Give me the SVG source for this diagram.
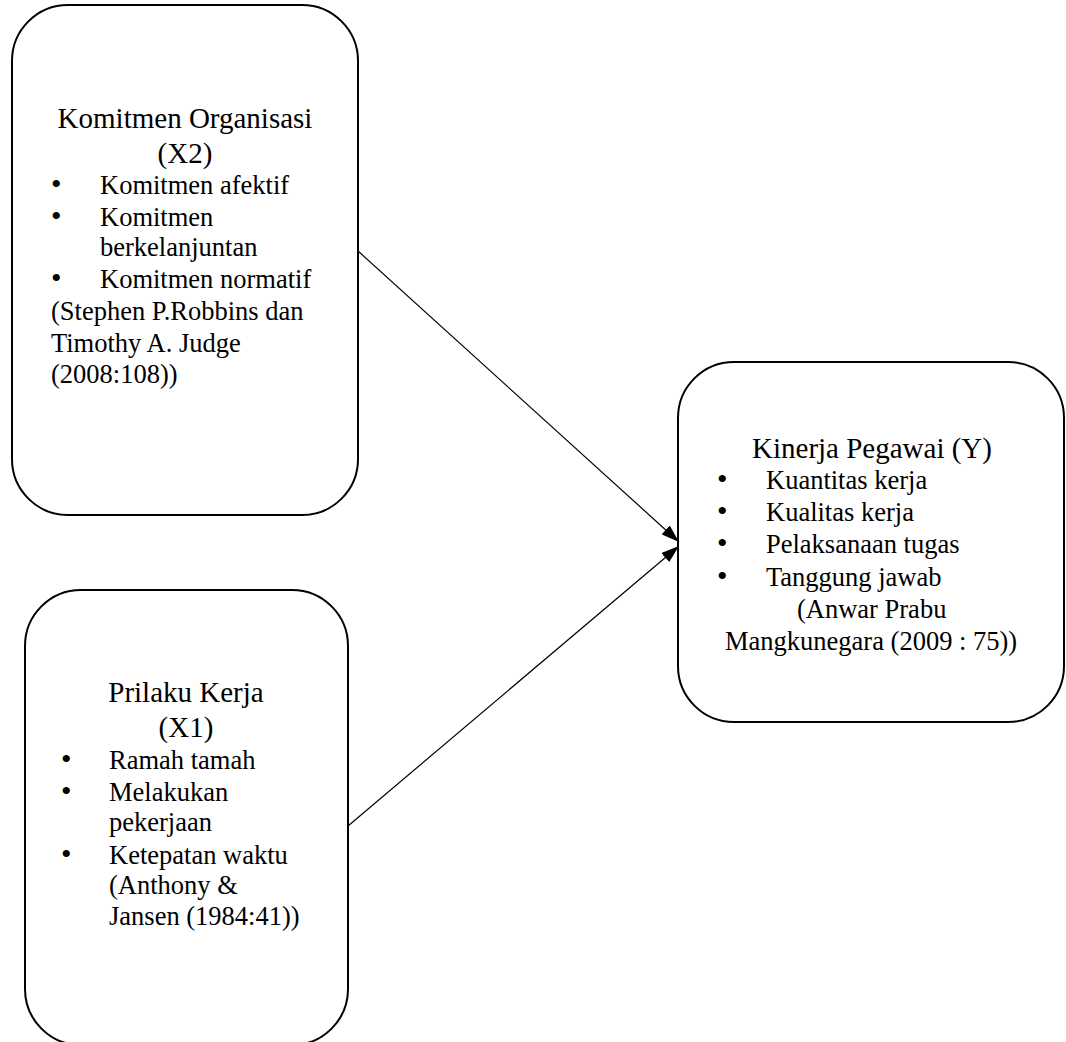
<svg xmlns="http://www.w3.org/2000/svg" width="1066" height="1042" viewBox="0 0 1066 1042">
<defs>
<style>
.box{fill:#fff;stroke:#000;stroke-width:2}
.t{font-family:"Liberation Serif","Times New Roman",serif;fill:#000}
.h{font-size:29px}
.l{font-size:26.5px}
.b{font-size:30px}
.c{text-anchor:middle}
.conn{stroke:#000;stroke-width:1.2;fill:none;marker-end:url(#ah)}
</style>
<marker id="ah" viewBox="0 0 18 12" refX="18" refY="6" markerWidth="18" markerHeight="12" markerUnits="userSpaceOnUse" orient="auto">
<path d="M0,0 L18,6 L0,12 Z" fill="#000"/>
</marker>
</defs>
<rect width="1066" height="1042" fill="#fff"/>
<g id="connectors">
<line class="conn" x1="358" y1="251" x2="679" y2="542"/>
<line class="conn" x1="348" y1="826" x2="679" y2="546"/>
</g>
<g id="node-x2">
<rect class="box" x="12" y="5" width="346" height="510" rx="56" ry="56"/>
<text class="t h c" x="185" y="128">Komitmen Organisasi</text>
<text class="t h c" x="185" y="163">(X2)</text>
<text class="t l" y="194"><tspan class="b" x="51">•</tspan><tspan x="100">Komitmen afektif</tspan></text>
<text class="t l" y="226"><tspan class="b" x="51">•</tspan><tspan x="100">Komitmen</tspan></text>
<text class="t l" x="100" y="256">berkelanjuntan</text>
<text class="t l" y="288"><tspan class="b" x="51">•</tspan><tspan x="100">Komitmen normatif</tspan></text>
<text class="t l" x="51" y="320">(Stephen P.Robbins dan</text>
<text class="t l" x="51" y="352">Timothy A. Judge</text>
<text class="t l" x="51" y="383">(2008:108))</text>
</g>
<g id="node-x1">
<rect class="box" x="25" y="590" width="323" height="455" rx="56" ry="56"/>
<text class="t h c" x="186" y="702">Prilaku Kerja</text>
<text class="t h c" x="186" y="737">(X1)</text>
<text class="t l" y="769"><tspan class="b" x="61">•</tspan><tspan x="109">Ramah tamah</tspan></text>
<text class="t l" y="801"><tspan class="b" x="61">•</tspan><tspan x="109">Melakukan</tspan></text>
<text class="t l" x="109" y="831">pekerjaan</text>
<text class="t l" y="864"><tspan class="b" x="61">•</tspan><tspan x="109">Ketepatan waktu</tspan></text>
<text class="t l" x="109" y="894">(Anthony &amp;</text>
<text class="t l" x="109" y="925">Jansen (1984:41))</text>
</g>
<g id="node-y">
<rect class="box" x="678" y="362" width="386" height="360" rx="56" ry="56"/>
<text class="t h c" x="872" y="458">Kinerja Pegawai (Y)</text>
<text class="t l" y="489"><tspan class="b" x="717">•</tspan><tspan x="766">Kuantitas kerja</tspan></text>
<text class="t l" y="521"><tspan class="b" x="717">•</tspan><tspan x="766">Kualitas kerja</tspan></text>
<text class="t l" y="553"><tspan class="b" x="717">•</tspan><tspan x="766">Pelaksanaan tugas</tspan></text>
<text class="t l" y="586"><tspan class="b" x="717">•</tspan><tspan x="766">Tanggung jawab</tspan></text>
<text class="t l" x="797" y="618">(Anwar Prabu</text>
<text class="t l" x="725" y="650">Mangkunegara (2009 : 75))</text>
</g>
</svg>
